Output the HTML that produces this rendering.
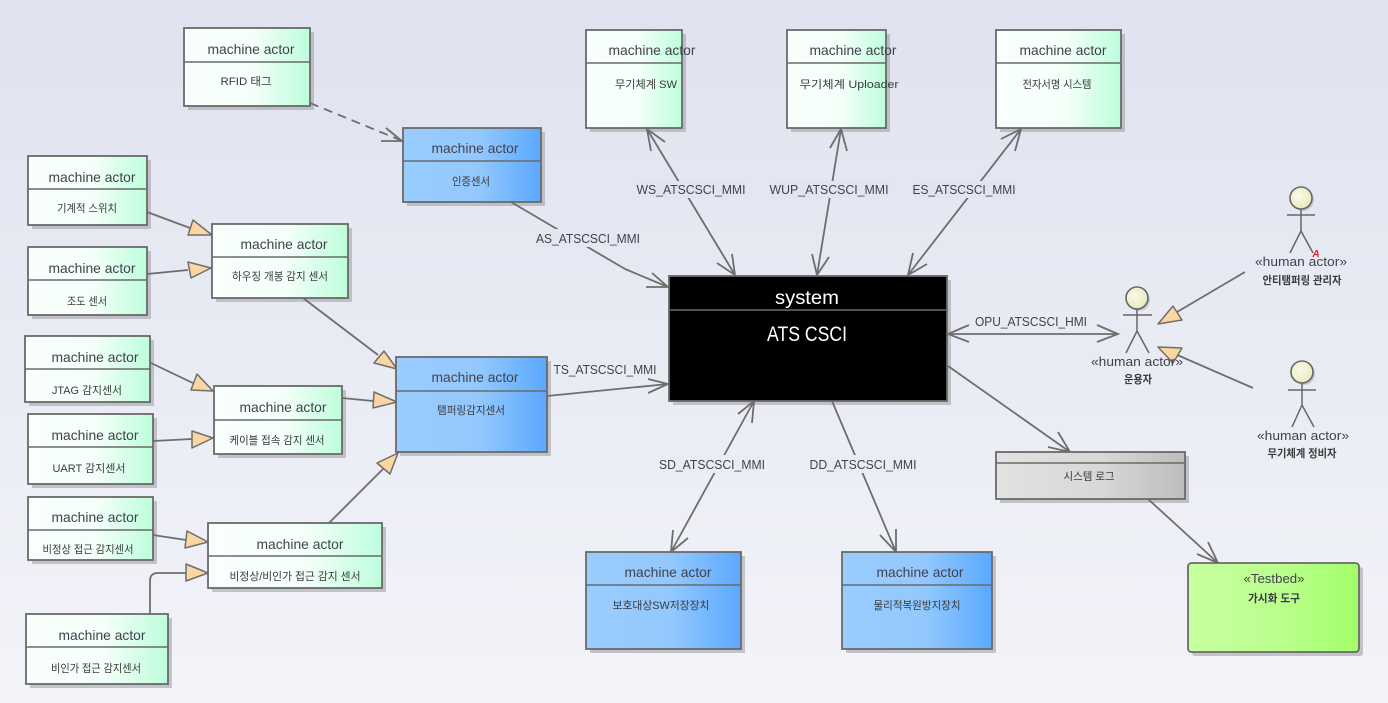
<!DOCTYPE html>
<html><head><meta charset="utf-8"><style>
html,body{margin:0;padding:0;width:1388px;height:703px;overflow:hidden;background:#e8eaf3}
svg{display:block;filter:blur(.35px)}
text{font-family:"Liberation Sans","Noto Sans CJK KR",sans-serif;fill:#42424c;text-anchor:middle}
.m{font-size:14px}
.s{font-size:11px;fill:#3a3a3a}
.c{font-size:13px}
.box{stroke:#6a6a6a;stroke-width:1.8}
.shadow{fill:#a4a4aa;opacity:.6}
.div{stroke:#6a6a6a;stroke-width:1.6}
.l{stroke:#6e6e6e;stroke-width:1.8;fill:none}
.t{fill:#fbd6a2;stroke:#6e6e6e;stroke-width:1.5;stroke-linejoin:round}
.ac{stroke:#666;stroke-width:1.5;fill:none}
.h{fill:url(#hd);stroke:#666;stroke-width:1.6}
</style></head><body>
<svg width="1388" height="703" viewBox="0 0 1388 703" xmlns="http://www.w3.org/2000/svg">
<defs>
<linearGradient id="bg" x1="0" y1="0" x2="0" y2="1"><stop offset="0" stop-color="#dfe2ef"/><stop offset="1" stop-color="#f3f4f9"/></linearGradient>
<linearGradient id="g" x1="0" y1="0" x2="1" y2="0"><stop offset="0" stop-color="#f9fffc"/><stop offset=".55" stop-color="#f4fff9"/><stop offset="1" stop-color="#bdfedb"/></linearGradient>
<linearGradient id="b" x1="0" y1="0" x2="1" y2="0"><stop offset="0" stop-color="#9accfe"/><stop offset=".55" stop-color="#93c8fe"/><stop offset="1" stop-color="#5ba8fe"/></linearGradient>
<linearGradient id="gr" x1="0" y1="0" x2="1" y2="0"><stop offset="0" stop-color="#e2e2e2"/><stop offset=".55" stop-color="#d8d8d8"/><stop offset="1" stop-color="#bdbdbd"/></linearGradient>
<linearGradient id="lg" x1="0" y1="0" x2="1" y2="0"><stop offset="0" stop-color="#c8ff9f"/><stop offset=".55" stop-color="#baff8e"/><stop offset="1" stop-color="#a2ff68"/></linearGradient>
<radialGradient id="hd" cx=".4" cy=".4" r=".7"><stop offset="0" stop-color="#fafae8"/><stop offset="1" stop-color="#e6e8b8"/></radialGradient>
</defs>
<rect width="1388" height="703" fill="url(#bg)"/>

<!-- shadows -->
<g class="shadow">
<rect x="188" y="32" width="126" height="78"/><rect x="32" y="160" width="119" height="69"/><rect x="32" y="251" width="119" height="68"/>
<rect x="29" y="340" width="125" height="66"/><rect x="32" y="418" width="125" height="70"/><rect x="32" y="501" width="125" height="63"/>
<rect x="30" y="618" width="142" height="70"/><rect x="216" y="228" width="136" height="74"/><rect x="218" y="390" width="128" height="68"/>
<rect x="212" y="527" width="174" height="65"/><rect x="407" y="132" width="138" height="74"/><rect x="400" y="361" width="151" height="95"/>
<rect x="590" y="34" width="96" height="98"/><rect x="791" y="34" width="99" height="98"/><rect x="1000" y="34" width="125" height="98"/>
<rect x="673" y="280" width="278" height="125"/><rect x="590" y="556" width="155" height="97"/><rect x="846" y="556" width="150" height="97"/>
<rect x="1000" y="456" width="189" height="47"/><rect x="1192" y="567" width="171" height="89" rx="3"/>
</g>

<!-- connectors -->
<path class="l" stroke-dasharray="9 6" d="M310 103L400 140"/>
<path class="l" d="M381 141L402 141L386 128"/>
<path class="l" d="M511 202L625 269L668 287M646 287L668 287L652 273"/>
<path class="l" d="M647 129L735 275M651 151L647 129L665 142M732 254L735 275L717 263"/>
<path class="l" d="M841 129L817 275M830 148L841 129L847 151M812 254L817 275L829 257"/>
<path class="l" d="M1021 129L908 275M1001 139L1021 129L1015 151M913 253L908 275L927 264"/>
<path class="l" d="M948 334L1118 334M969 325L948 334L969 342M1097 325L1118 334L1097 342"/>
<path class="l" d="M547 396L668 384M648 379L668 384L648 393"/>
<path class="l" d="M671 552L754 401M752 423L754 401L738 414M673 530L671 552L688 538"/>
<path class="l" d="M832 401L896 552M880 535L896 552L896 529"/>
<path class="l" d="M948 366L1070 452M1058 432L1070 452L1048 447"/>
<path class="l" d="M1148 499L1218 563M1208 542L1218 563L1197 554"/>

<path class="l" d="M147 212L190 228"/><polygon class="t" points="212,235 193,220 188,235"/>
<path class="l" d="M147 274L188 270"/><polygon class="t" points="211,268 188,262 191,278"/>
<path class="l" d="M303 298L378 355"/><polygon class="t" points="397,369 384,351 374,363"/>
<path class="l" d="M151 363L195 384"/><polygon class="t" points="213,391 197,374 191,390"/>
<path class="l" d="M342 398L373 401"/><polygon class="t" points="397,402 374,392 373,408"/>
<path class="l" d="M153 441L192 439"/><polygon class="t" points="213,438 192,431 192,448"/>
<path class="l" d="M153 535L186 540"/><polygon class="t" points="208,542 187,531 185,548"/>
<path class="l" d="M150 614V581Q150 573 158 573H186"/><polygon class="t" points="208,573 186,564 186,581"/>
<path class="l" d="M329 523L384 468"/><polygon class="t" points="398,453 377,463 390,474"/>
<path class="l" d="M1245 272L1177 312"/><polygon class="t" points="1158,324 1173,306 1182,320"/>
<path class="l" d="M1253 388L1175 354"/><polygon class="t" points="1158,347 1182,348 1173,363"/>

<!-- connector labels -->
<g>
<rect x="536" y="229" width="104" height="18" fill="#e4e6f1"/><text class="c" x="588" y="243" textLength="104" lengthAdjust="spacingAndGlyphs">AS_ATSCSCI_MMI</text>
<rect x="637" y="181" width="109" height="17" fill="#e2e5f0"/><text class="c" x="691" y="194" textLength="109" lengthAdjust="spacingAndGlyphs">WS_ATSCSCI_MMI</text>
<rect x="770" y="181" width="119" height="17" fill="#e2e5f0"/><text class="c" x="829" y="194" textLength="119" lengthAdjust="spacingAndGlyphs">WUP_ATSCSCI_MMI</text>
<rect x="913" y="181" width="103" height="17" fill="#e2e5f0"/><text class="c" x="964" y="194" textLength="103" lengthAdjust="spacingAndGlyphs">ES_ATSCSCI_MMI</text>
<text class="c" x="605" y="374" textLength="103" lengthAdjust="spacingAndGlyphs">TS_ATSCSCI_MMI</text>
<text class="c" x="1031" y="326" textLength="112" lengthAdjust="spacingAndGlyphs">OPU_ATSCSCI_HMI</text>
<rect x="659" y="455" width="106" height="18" fill="#eaecf4"/><text class="c" x="712" y="469" textLength="106" lengthAdjust="spacingAndGlyphs">SD_ATSCSCI_MMI</text>
<rect x="810" y="455" width="107" height="18" fill="#eaecf4"/><text class="c" x="863" y="469" textLength="107" lengthAdjust="spacingAndGlyphs">DD_ATSCSCI_MMI</text>
</g>

<!-- mint boxes -->
<rect class="box" x="184" y="28" width="126" height="78" fill="url(#g)"/><path class="div" d="M184 62H310"/>
<text class="m" x="251" y="54" textLength="87" lengthAdjust="spacingAndGlyphs">machine actor</text><text class="s" x="246" y="85" textLength="51" lengthAdjust="spacingAndGlyphs">RFID 태그</text>

<rect class="box" x="28" y="156" width="119" height="69" fill="url(#g)"/><path class="div" d="M28 189H147"/>
<text class="m" x="92" y="182" textLength="87" lengthAdjust="spacingAndGlyphs">machine actor</text><text class="s" x="87" y="212" textLength="60" lengthAdjust="spacingAndGlyphs">기계적 스위치</text>

<rect class="box" x="28" y="247" width="119" height="68" fill="url(#g)"/><path class="div" d="M28 280H147"/>
<text class="m" x="92" y="273" textLength="87" lengthAdjust="spacingAndGlyphs">machine actor</text><text class="s" x="87" y="305" textLength="40" lengthAdjust="spacingAndGlyphs">조도 센서</text>

<rect class="box" x="25" y="336" width="125" height="66" fill="url(#g)"/><path class="div" d="M25 369H150"/>
<text class="m" x="95" y="362" textLength="87" lengthAdjust="spacingAndGlyphs">machine actor</text><text class="s" x="87" y="394" textLength="70" lengthAdjust="spacingAndGlyphs">JTAG 감지센서</text>

<rect class="box" x="28" y="414" width="125" height="70" fill="url(#g)"/><path class="div" d="M28 447H153"/>
<text class="m" x="95" y="440" textLength="87" lengthAdjust="spacingAndGlyphs">machine actor</text><text class="s" x="89" y="472" textLength="73" lengthAdjust="spacingAndGlyphs">UART 감지센서</text>

<rect class="box" x="28" y="497" width="125" height="63" fill="url(#g)"/><path class="div" d="M28 530H153"/>
<text class="m" x="95" y="522" textLength="87" lengthAdjust="spacingAndGlyphs">machine actor</text><text class="s" x="88" y="553" textLength="91" lengthAdjust="spacingAndGlyphs">비정상 접근 감지센서</text>

<rect class="box" x="26" y="614" width="142" height="70" fill="url(#g)"/><path class="div" d="M26 647H168"/>
<text class="m" x="102" y="640" textLength="87" lengthAdjust="spacingAndGlyphs">machine actor</text><text class="s" x="96" y="672" textLength="90" lengthAdjust="spacingAndGlyphs">비인가 접근 감지센서</text>

<rect class="box" x="212" y="224" width="136" height="74" fill="url(#g)"/><path class="div" d="M212 257H348"/>
<text class="m" x="284" y="249" textLength="87" lengthAdjust="spacingAndGlyphs">machine actor</text><text class="s" x="280" y="280" textLength="96" lengthAdjust="spacingAndGlyphs">하우징 개봉 감지 센서</text>

<rect class="box" x="214" y="386" width="128" height="68" fill="url(#g)"/><path class="div" d="M214 420H342"/>
<text class="m" x="283" y="412" textLength="87" lengthAdjust="spacingAndGlyphs">machine actor</text><text class="s" x="277" y="444" textLength="95" lengthAdjust="spacingAndGlyphs">케이블 접속 감지 센서</text>

<rect class="box" x="208" y="523" width="174" height="65" fill="url(#g)"/><path class="div" d="M208 556H382"/>
<text class="m" x="300" y="549" textLength="87" lengthAdjust="spacingAndGlyphs">machine actor</text><text class="s" x="295" y="580" textLength="131" lengthAdjust="spacingAndGlyphs">비정상/비인가 접근 감지 센서</text>

<rect class="box" x="586" y="30" width="96" height="98" fill="url(#g)"/><path class="div" d="M586 63H682"/>
<text class="m" x="652" y="55" textLength="87" lengthAdjust="spacingAndGlyphs">machine actor</text><text class="s" x="646" y="88" textLength="62" lengthAdjust="spacingAndGlyphs">무기체계 SW</text>

<rect class="box" x="787" y="30" width="99" height="98" fill="url(#g)"/><path class="div" d="M787 63H886"/>
<text class="m" x="853" y="55" textLength="87" lengthAdjust="spacingAndGlyphs">machine actor</text><text class="s" x="849" y="88" textLength="99" lengthAdjust="spacingAndGlyphs">무기체계 Uploader</text>

<rect class="box" x="996" y="30" width="125" height="98" fill="url(#g)"/><path class="div" d="M996 63H1121"/>
<text class="m" x="1063" y="55" textLength="87" lengthAdjust="spacingAndGlyphs">machine actor</text><text class="s" x="1057" y="88" textLength="69" lengthAdjust="spacingAndGlyphs">전자서명 시스템</text>

<!-- blue boxes -->
<rect class="box" x="403" y="128" width="138" height="74" fill="url(#b)"/><path class="div" d="M403 161H541"/>
<text class="m" x="475" y="153" textLength="87" lengthAdjust="spacingAndGlyphs">machine actor</text><text class="s" x="471" y="185" textLength="38" lengthAdjust="spacingAndGlyphs">인증센서</text>

<rect class="box" x="396" y="357" width="151" height="95" fill="url(#b)"/><path class="div" d="M396 391H547"/>
<text class="m" x="475" y="382" textLength="87" lengthAdjust="spacingAndGlyphs">machine actor</text><text class="s" x="471" y="414" textLength="68" lengthAdjust="spacingAndGlyphs">탬퍼링감지센서</text>

<rect class="box" x="586" y="552" width="155" height="97" fill="url(#b)"/><path class="div" d="M586 585H741"/>
<text class="m" x="668" y="577" textLength="87" lengthAdjust="spacingAndGlyphs">machine actor</text><text class="s" x="661" y="609" textLength="97" lengthAdjust="spacingAndGlyphs">보호대상SW저장장치</text>

<rect class="box" x="842" y="552" width="150" height="97" fill="url(#b)"/><path class="div" d="M842 585H992"/>
<text class="m" x="920" y="577" textLength="87" lengthAdjust="spacingAndGlyphs">machine actor</text><text class="s" x="917" y="609" textLength="87" lengthAdjust="spacingAndGlyphs">물리적복원방지장치</text>

<!-- system -->
<rect class="box" x="669" y="276" width="278" height="125" fill="#000"/><path class="div" d="M669 310H947"/>
<text x="807" y="304" font-size="19" style="fill:#fff" textLength="64" lengthAdjust="spacingAndGlyphs">system</text>
<text x="807" y="341" font-size="21" style="fill:#fff" textLength="80" lengthAdjust="spacingAndGlyphs">ATS CSCI</text>

<!-- log -->
<rect class="box" x="996" y="452" width="189" height="47" fill="url(#gr)"/><path class="div" d="M996 463H1185"/>
<text class="s" x="1089" y="480" textLength="51" lengthAdjust="spacingAndGlyphs">시스템 로그</text>

<!-- testbed -->
<rect class="box" x="1188" y="563" width="171" height="89" rx="3.5" fill="url(#lg)"/>
<text class="c" x="1274" y="583" textLength="61" lengthAdjust="spacingAndGlyphs">«Testbed»</text>
<text class="s" x="1274" y="602" textLength="52" lengthAdjust="spacingAndGlyphs" font-weight="bold">가시화 도구</text>

<!-- actors -->
<circle cx="1139" cy="300" r="11" fill="#aaa" opacity=".5"/><circle cx="1303" cy="200" r="11" fill="#aaa" opacity=".5"/><circle cx="1304" cy="374" r="11" fill="#aaa" opacity=".5"/>
<circle class="h" cx="1137" cy="298" r="11"/>
<path class="ac" d="M1137 309V331M1123 315H1152M1126 353L1137 331L1149 353"/>
<text class="c" x="1137" y="366" textLength="92" lengthAdjust="spacingAndGlyphs">«human actor»</text>
<text class="s" x="1138" y="383" textLength="28" lengthAdjust="spacingAndGlyphs" font-weight="bold">운용자</text>

<circle class="h" cx="1301" cy="198" r="11"/>
<path class="ac" d="M1301 209V231M1287 215H1315M1290 253L1301 231L1313 253"/>
<text class="c" x="1301" y="266" textLength="92" lengthAdjust="spacingAndGlyphs">«human actor»</text>
<text class="s" x="1302" y="284" textLength="79" lengthAdjust="spacingAndGlyphs" font-weight="bold">안티탬퍼링 관리자</text>
<text x="1316" y="257" font-size="10" font-weight="bold" font-style="italic" style="fill:#f02030">A</text>

<circle class="h" cx="1302" cy="372" r="11"/>
<path class="ac" d="M1302 383V405M1288 390H1316M1292 427L1302 405L1314 427"/>
<text class="c" x="1303" y="440" textLength="92" lengthAdjust="spacingAndGlyphs">«human actor»</text>
<text class="s" x="1302" y="457" textLength="69" lengthAdjust="spacingAndGlyphs" font-weight="bold">무기체계 정비자</text>
</svg>
</body></html>
